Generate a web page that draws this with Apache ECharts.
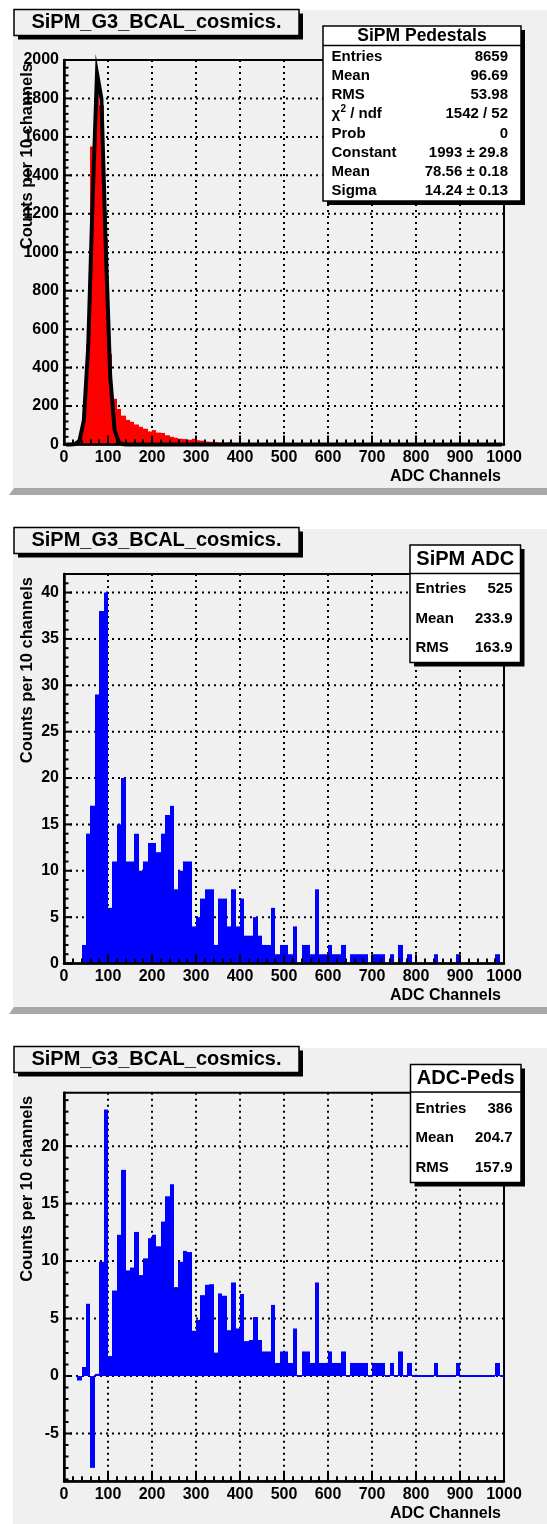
<!DOCTYPE html>
<html><head><meta charset="utf-8">
<script src="https://cdn.jsdelivr.net/npm/echarts@6/dist/echarts.min.js"></script>
<style>html,body{margin:0;padding:0;background:#fff}#c{width:547px;height:1524px}</style>
</head><body><div id="c"></div>
<script>
// ---------------- data ----------------
const BIN = 10;
const xTicks = [0, 100, 200, 300, 400, 500, 600, 700, 800, 900, 1000];

// Panel 1: SiPM pedestals (counts per 10-channel bin, bins start at 0)
const pedCounts = [
  0, 2, 5, 25, 130, 520, 1550, 1880, 1765, 1070,
  470, 238, 185, 150, 128, 118, 104, 92, 82, 68,
  75, 62, 60, 48, 40, 35, 30, 28, 25, 30,
  22, 20, 15, 14, 12, 10, 10, 12, 8, 6,
  5, 4, 4, 3, 3, 2, 2, 2, 1, 1,
  1, 1, 0, 1, 0, 0, 1, 0, 0, 0,
  0, 0, 0, 0, 0, 0, 0, 0, 0, 0,
  0, 0, 0, 0, 0, 0, 0, 0, 0, 0,
  0, 0, 0, 0, 0, 0, 0, 0, 0, 0,
  0, 0, 0, 0, 0, 0, 0, 0, 0, 0
];
// Gaussian fit curve as drawn
const fitX = [5, 15, 25, 35, 45, 55, 65, 75, 85, 95, 105, 115, 125, 135, 145, 995];
const fitY = [0, 0, 2, 19, 124, 507, 1267, 1931, 1800, 1024, 355, 75, 10, 1, 0, 0];

// Panel 2: SiPM ADC
const adcCounts = [
  0, 0, 0, 0, 2, 14, 17, 29, 38, 40,
  6, 11, 15, 20, 11, 11, 14, 10, 11, 13,
  13, 12, 14, 16, 17, 8, 10, 11, 11, 4,
  5, 7, 8, 8, 2, 7, 7, 4, 8, 4,
  7, 3, 3, 5, 3, 2, 2, 6, 1, 2,
  2, 1, 4, 0, 2, 2, 1, 8, 1, 1,
  2, 1, 1, 2, 0, 1, 1, 1, 1, 0,
  1, 1, 1, 0, 1, 0, 2, 0, 1, 0,
  0, 0, 0, 0, 1, 0, 0, 0, 0, 1,
  0, 0, 0, 0, 0, 0, 0, 0, 1, 0
];

// Panel 3: ADC - Peds
const pedSubCounts = [
  null, null, null, -0.3, 0.7, 6.2, -7.9, 0.1, 9.85, 23.1,
  1.65, 7.35, 12.2, 17.85, 9.1, 9.35, 12.45, 8.7, 10.15, 11.9,
  12.2, 11.2, 13.35, 15.55, 16.6, 7.65, 9.85, 10.8, 10.7, 3.85,
  4.8, 6.95, 7.85, 7.9, 1.95, 7.1, 6.9, 3.9, 8.05, 4.05,
  7.05, 2.95, 3.05, 5.05, 3.05, 2.05, 2.05, 6.1, 1.05, 2.05,
  2.05, 1.05, 4.05, 0, 2.05, 2.05, 1.05, 8.05, 1.05, 1.05,
  2.05, 1.05, 1.05, 2.05, 0, 1.05, 1.05, 1.05, 1.05, 0,
  1.05, 1.05, 1.05, 0, 1.05, 0, 2.05, 0, 1.05, 0,
  0, 0, 0, 0, 1.05, 0, 0, 0, 0, 1.05,
  0, 0, 0, 0, 0, 0, 0, 0, 1.05, 0
];

const yTicks1 = [0, 200, 400, 600, 800, 1000, 1200, 1400, 1600, 1800, 2000];
const yTicks2 = [0, 5, 10, 15, 20, 25, 30, 35, 40];
const yTicks3 = [-5, 0, 5, 10, 15, 20];

const titleText = 'SiPM_G3_BCAL_cosmics.';
const xTitle = 'ADC Channels';
const yTitle = 'Counts per 10 channels';

const stats1Name = 'SiPM Pedestals';
const stats1Labels = ['Entries', 'Mean', 'RMS', 'χ² / ndf', 'Prob', 'Constant', 'Mean', 'Sigma'];
const stats1Values = ['8659', '96.69', '53.98', '1542 / 52', '0', '1993 ± 29.8', '78.56 ± 0.18', '14.24 ± 0.13'];
const stats2Name = 'SiPM ADC';
const stats2Labels = ['Entries', 'Mean', 'RMS'];
const stats2Values = ['525', '233.9', '163.9'];
const stats3Name = 'ADC-Peds';
const stats3Labels = ['Entries', 'Mean', 'RMS'];
const stats3Values = ['386', '204.7', '157.9'];

// ---------------- layout / style ----------------
const FONT = '"Liberation Sans", Arial, Helvetica, sans-serif';
const BG = '#f0f0f0';
const GL = 64, GW = 440;

const panels = [
  { top: 60, height: 384.5, ymin: 0, ymax: 2000, minorStep: 40, ticks: yTicks1,
    counts: pedCounts, color: '#ff0000', outline: false,
    bg: [10, 488], band: 488, titleY: 9.5,
    stats: { name: stats1Name, labels: stats1Labels, values: stats1Values,
      x: 323, y: 26, w: 198, h: 175, headH: 19.5, headSize: 17.5,
      rowY0: 57, rowStep: 19.1, lx: 331.5, vx: 508 } },
  { top: 574, height: 389.5, ymin: 0, ymax: 42, minorStep: 1, ticks: yTicks2,
    counts: adcCounts, color: '#0000ff', outline: false,
    bg: [529, 1007], band: 1007, titleY: 527.5,
    stats: { name: stats2Name, labels: stats2Labels, values: stats2Values,
      x: 410, y: 545, w: 110.5, h: 117.5, headH: 28.5, headSize: 20,
      rowY0: 589, rowStep: 29.6, lx: 415.5, vx: 512.5 } },
  { top: 1092.7, height: 388.5, ymin: -9.15, ymax: 24.65, minorStep: 1, ticks: yTicks3,
    counts: pedSubCounts, color: '#0000ff', outline: true,
    bg: [1048, 1524], band: null, titleY: 1046.5,
    stats: { name: stats3Name, labels: stats3Labels, values: stats3Values,
      x: 410.5, y: 1064.5, w: 110.5, h: 118, headH: 27.5, headSize: 20,
      rowY0: 1108.5, rowStep: 29.6, lx: 415.5, vx: 512.5 } }
];

const grids = [], xAxes = [], yAxes = [], series = [], graphics = [];

function barRender(color, outline) {
  return function (params, api) {
    const x0 = api.value(0), v = api.value(1);
    const p0 = api.coord([x0, 0]);
    const p1 = api.coord([x0 + BIN, v]);
    const xa = Math.round(p0[0]), xb = Math.round(p1[0]);
    const children = [{
      type: 'rect',
      shape: { x: xa, y: Math.min(p0[1], p1[1]), width: xb - xa, height: Math.abs(p1[1] - p0[1]) },
      style: { fill: color }
    }];
    if (outline) {
      children.push({ type: 'line', shape: { x1: xa, y1: p1[1], x2: xb, y2: p1[1] },
        style: { stroke: color, lineWidth: 2 } });
    }
    return { type: 'group', children: children };
  };
}

panels.forEach(function (P, i) {
  grids.push({ left: GL, top: P.top, width: GW, height: P.height, show: true,
    borderColor: '#000', borderWidth: 2, backgroundColor: 'transparent', outerBoundsMode: 'none' });
  // grid-line x axis (under the bars)
  xAxes.push({ gridIndex: i, type: 'value', position: 'top', min: 0, max: 1000, interval: 100,
    axisLine: { show: false }, axisTick: { show: false }, axisLabel: { show: false },
    splitLine: { show: true, lineStyle: { color: '#000', width: 2, type: [2, 4] } }, z: 0 });
  // visible x axis (ticks over the bars)
  xAxes.push({ gridIndex: i, type: 'value', position: 'bottom', min: 0, max: 1000, interval: 100,
    axisLine: { show: true, onZero: false, lineStyle: { color: '#000', width: 2.5 } },
    axisTick: { show: true, inside: true, length: 9, lineStyle: { color: '#000', width: 2 } },
    minorTick: { show: true, splitNumber: 5, length: 5, lineStyle: { color: '#000', width: 2 } },
    axisLabel: { show: true, margin: 5, color: '#000', fontSize: 16, fontWeight: 'bold', fontFamily: FONT,
      formatter: function (v) { return String(v); } },
    splitLine: { show: false }, z: 10 });
  yAxes.push({ gridIndex: i, type: 'value', min: P.ymin, max: P.ymax,
    axisLine: { show: true, onZero: false, lineStyle: { color: '#000', width: 2.5 } },
    axisTick: { show: false }, axisLabel: { show: false }, splitLine: { show: false }, z: 10 });

  // horizontal grid lines
  series.push({ type: 'custom', coordinateSystem: 'cartesian2d', xAxisIndex: 2 * i, yAxisIndex: i,
    z: 1, silent: true, clip: false, encode: { x: 0, y: 1 },
    data: P.ticks.filter(function (v) { return v !== P.ymin; }).map(function (v) { return [0, v]; }),
    renderItem: function (params, api) {
      const v = api.value(1);
      const a = api.coord([0, v]), b = api.coord([1000, v]);
      return { type: 'line', shape: { x1: a[0], y1: a[1], x2: b[0], y2: b[1] },
        style: { stroke: '#000', lineWidth: 2, lineDash: [2, 4] } };
    } });

  // histogram bars
  const hd = [];
  P.counts.forEach(function (v, k) { if (v !== null) hd.push([k * BIN, v]); });
  series.push({ type: 'custom', coordinateSystem: 'cartesian2d', xAxisIndex: 2 * i, yAxisIndex: i,
    z: 2, silent: true, clip: false, encode: { x: 0, y: 1 }, data: hd,
    renderItem: barRender(P.color, P.outline) });

  // y ticks and labels
  const td = [];
  const lo = Math.ceil(P.ymin / P.minorStep), hi = Math.floor(P.ymax / P.minorStep);
  for (let k = lo; k <= hi; k++) {
    const v = +(k * P.minorStep).toFixed(6);
    const major = P.ticks.indexOf(v) >= 0 ? 1 : 0;
    td.push([0, v, major]);
  }
  series.push({ type: 'custom', coordinateSystem: 'cartesian2d', xAxisIndex: 2 * i, yAxisIndex: i,
    z: 10, silent: true, clip: false, encode: { x: 0, y: 1 }, data: td,
    renderItem: function (params, api) {
      const v = api.value(1), major = api.value(2);
      const p = api.coord([0, v]);
      const ch = [{ type: 'line', shape: { x1: p[0], y1: p[1], x2: p[0] + (major ? 8 : 4.5), y2: p[1] },
        style: { stroke: '#000', lineWidth: 2 } }];
      if (major) {
        ch.push({ type: 'text', x: p[0] - 5, y: p[1],
          style: { text: String(v), fill: '#000', font: 'bold 16px ' + FONT, align: 'right', verticalAlign: 'middle' } });
      }
      return { type: 'group', children: ch };
    } });

  // ----- decorations -----
  const bottom = P.top + P.height;
  graphics.push({ type: 'rect', z: -10, shape: { x: 13, y: P.bg[0], width: 547 - 13, height: P.bg[1] - P.bg[0] },
    style: { fill: BG } });
  if (P.band !== null) {
    graphics.push({ type: 'polygon', z: -10,
      shape: { points: [[9, P.band + 7], [547, P.band + 7], [547, P.band], [14, P.band]] },
      style: { fill: '#a8a8a8' } });
  }
  // title box
  graphics.push({ type: 'rect', z: 40, shape: { x: 18, y: P.titleY + 4, width: 285, height: 26 }, style: { fill: '#000' } });
  graphics.push({ type: 'rect', z: 41, shape: { x: 14, y: P.titleY, width: 285, height: 26 },
    style: { fill: BG, stroke: '#000', lineWidth: 1.5 } });
  graphics.push({ type: 'text', z: 42, x: 156.5, y: P.titleY + 13,
    style: { text: titleText, fill: '#000', font: 'bold 20px ' + FONT, align: 'center', verticalAlign: 'middle' } });
  // axis titles
  graphics.push({ type: 'text', z: 42, x: 501, y: bottom + 32,
    style: { text: xTitle, fill: '#000', font: 'bold 16px ' + FONT, align: 'right', verticalAlign: 'middle' } });
  graphics.push({ type: 'text', z: 42, x: 27.5, y: P.top + 3, rotation: Math.PI / 2,
    style: { text: yTitle, fill: '#000', font: 'bold 16.5px ' + FONT, align: 'right', verticalAlign: 'middle' } });
  // stats box
  const S = P.stats;
  graphics.push({ type: 'rect', z: 100, shape: { x: S.x + 4, y: S.y + 4, width: S.w, height: S.h }, style: { fill: '#000' } });
  graphics.push({ type: 'rect', z: 101, shape: { x: S.x, y: S.y, width: S.w, height: S.h },
    style: { fill: '#ffffff', stroke: '#000', lineWidth: 1.5 } });
  graphics.push({ type: 'line', z: 102, shape: { x1: S.x, y1: S.y + S.headH, x2: S.x + S.w, y2: S.y + S.headH },
    style: { stroke: '#000', lineWidth: 1.5 } });
  graphics.push({ type: 'text', z: 103, x: S.x + S.w / 2, y: S.y + S.headH / 2 + 0.5,
    style: { text: S.name, fill: '#000', font: 'bold ' + S.headSize + 'px ' + FONT, align: 'center', verticalAlign: 'middle' } });
  S.labels.forEach(function (lab, r) {
    const yy = S.rowY0 + r * S.rowStep;
    if (lab.indexOf('²') >= 0) {
      const parts = lab.split('²');
      graphics.push({ type: 'text', z: 103, x: S.lx, y: yy,
        style: { text: parts[0], fill: '#000', font: 'bold 15px ' + FONT, align: 'left', verticalAlign: 'middle' } });
      graphics.push({ type: 'text', z: 103, x: S.lx + 9, y: yy - 5,
        style: { text: '2', fill: '#000', font: 'bold 10px ' + FONT, align: 'left', verticalAlign: 'middle' } });
      graphics.push({ type: 'text', z: 103, x: S.lx + 14.5, y: yy,
        style: { text: parts[1], fill: '#000', font: 'bold 15px ' + FONT, align: 'left', verticalAlign: 'middle' } });
    } else {
      graphics.push({ type: 'text', z: 103, x: S.lx, y: yy,
        style: { text: lab, fill: '#000', font: 'bold 15px ' + FONT, align: 'left', verticalAlign: 'middle' } });
    }
    graphics.push({ type: 'text', z: 103, x: S.vx, y: yy,
      style: { text: S.values[r], fill: '#000', font: 'bold 15px ' + FONT, align: 'right', verticalAlign: 'middle' } });
  });
});

// fit curve on panel 1
series.push({ type: 'line', xAxisIndex: 0, yAxisIndex: 0, z: 3, silent: true, clip: false,
  showSymbol: false, symbol: 'none', animation: false,
  lineStyle: { color: '#000', width: 4, join: 'miter' },
  data: fitX.map(function (x, k) { return [x, fitY[k]]; }) });

const chart = echarts.init(document.getElementById('c'), null, { renderer: 'canvas', width: 547, height: 1524 });
chart.setOption({
  animation: false,
  backgroundColor: '#ffffff',
  grid: grids, xAxis: xAxes, yAxis: yAxes, series: series,
  graphic: { elements: graphics }
});
</script></body></html>
